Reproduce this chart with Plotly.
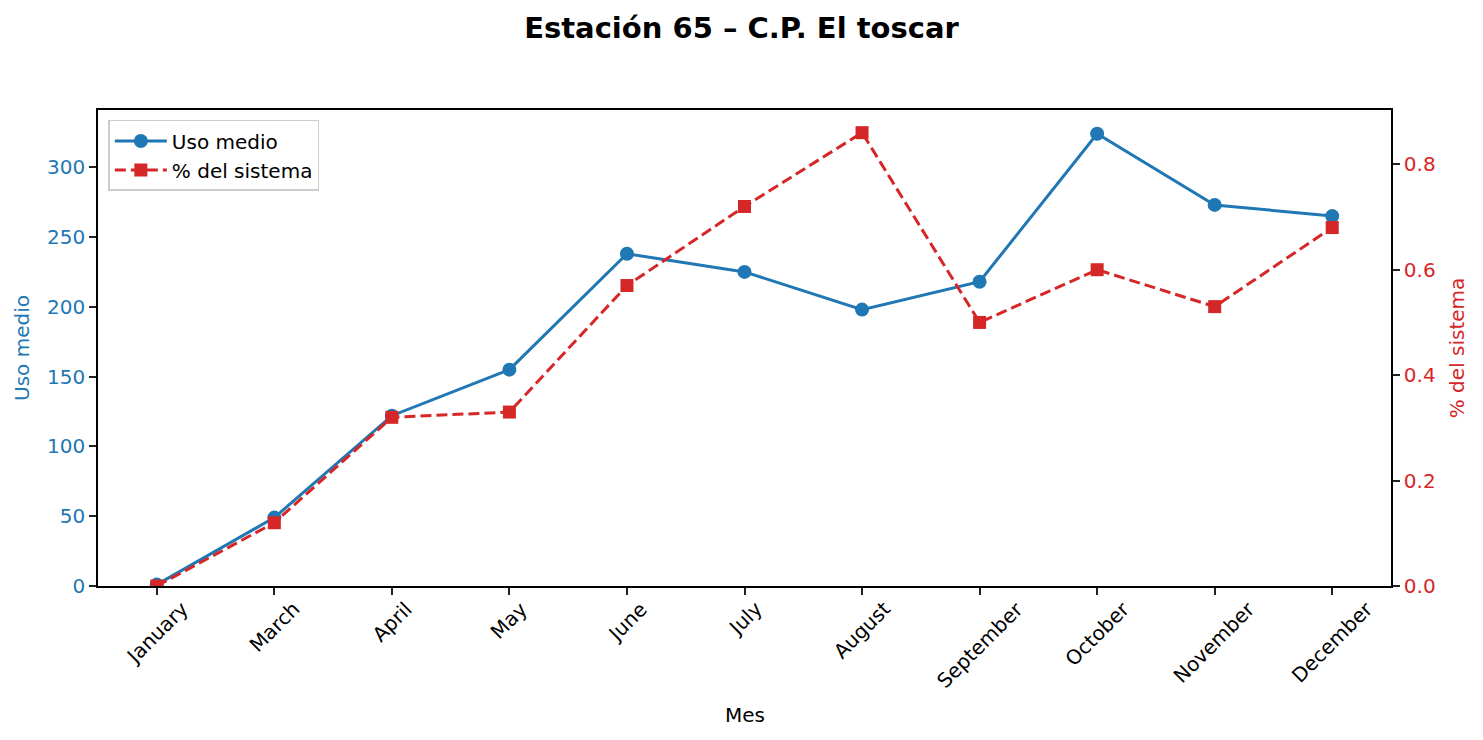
import plotly.graph_objects as go

months = ["January", "March", "April", "May", "June", "July", "August",
          "September", "October", "November", "December"]
uso_medio = [1, 49, 122, 155, 238, 225, 198, 218, 324, 273, 265]
pct_sistema = [0.0, 0.12, 0.32, 0.33, 0.57, 0.72, 0.86, 0.50, 0.60, 0.53, 0.68]

BLUE = "#1f77b4"
RED = "#d62728"
FONT = "DejaVu Sans"
FS = 20

xs = list(range(len(months)))

fig = go.Figure()
fig.add_trace(go.Scatter(
    x=xs, y=uso_medio, name="Uso medio", mode="lines+markers",
    line=dict(color=BLUE, width=3), marker=dict(symbol="circle", size=14, color=BLUE),
    yaxis="y"))
fig.add_trace(go.Scatter(
    x=xs, y=pct_sistema, name="% del sistema", mode="lines+markers",
    line=dict(color=RED, width=3, dash="11px,5px"), marker=dict(symbol="square", size=13, color=RED),
    yaxis="y2"))

annotations = []
for i, m in enumerate(months):
    annotations.append(dict(
        x=i, y=0, xref="x", yref="paper", text=m, showarrow=False,
        textangle=-45, xanchor="center", yanchor="top", yshift=-8, xshift=0,
        font=dict(family=FONT, size=FS, color="black")))
annotations.append(dict(
    x=0.5, y=-(715 - 586) / 476, xref="paper", yref="paper", text="Mes", showarrow=False,
    xanchor="center", yanchor="middle", font=dict(family=FONT, size=FS, color="black")))

fig.update_layout(
    width=1483, height=740,
    margin=dict(l=98, r=92, t=110, b=154),
    paper_bgcolor="white", plot_bgcolor="white",
    font=dict(family=FONT, size=FS, color="black"),
    title=dict(text="<b>Estación 65 – C.P. El toscar</b>", x=0.5, xanchor="center",
               y=1 - 28 / 740, yanchor="middle", font=dict(family=FONT, size=29, color="black")),
    xaxis=dict(range=[-0.5, 10.5], tickmode="array", tickvals=xs,
               showticklabels=False, ticks="outside", ticklen=7, tickwidth=1.6, tickcolor="#222",
               showline=True, linecolor="black", linewidth=1.6, mirror=True, showgrid=False, zeroline=False),
    yaxis=dict(range=[0, 341], tickvals=[0, 50, 100, 150, 200, 250, 300],
               ticks="outside", ticklen=7, tickwidth=1.6, tickcolor="#222",
               tickfont=dict(family=FONT, size=FS, color=BLUE),
               showline=True, linecolor="black", linewidth=1.6, showgrid=False, zeroline=False,
               title=dict(text="Uso medio", font=dict(family=FONT, size=FS, color=BLUE), standoff=12)),
    yaxis2=dict(range=[0, 0.903], tickvals=[0, 0.2, 0.4, 0.6, 0.8], tickformat=".1f",
                overlaying="y", side="right",
                ticks="outside", ticklen=7, tickwidth=1.6, tickcolor="#222",
                tickfont=dict(family=FONT, size=FS, color=RED),
                showline=True, linecolor="black", linewidth=1.6, showgrid=False, zeroline=False,
                title=dict(text="% del sistema", font=dict(family=FONT, size=FS, color=RED), standoff=15)),
    legend=dict(x=0.008, y=0.979, xanchor="left", yanchor="top",
                bgcolor="rgba(255,255,255,0.8)", bordercolor="#cccccc", borderwidth=1.5,
                font=dict(family=FONT, size=FS, color="black"), tracegroupgap=0, itemwidth=52),
    annotations=annotations,
    showlegend=True,
)

fig.write_html("out.html")
